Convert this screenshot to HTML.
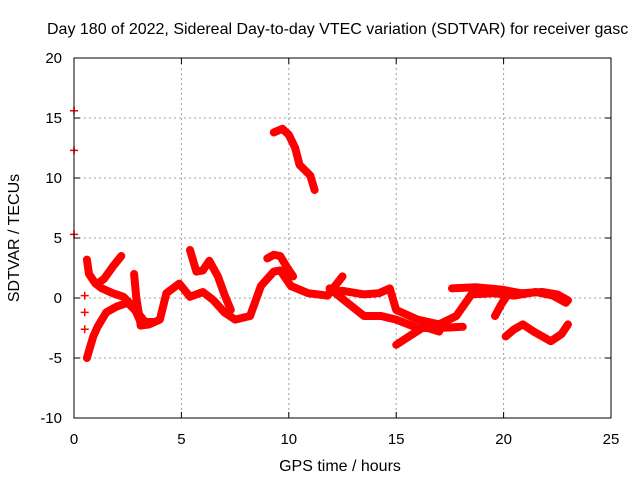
<!DOCTYPE html>
<html><head><meta charset="utf-8"><style>
body{margin:0;background:#fff;}
svg{display:block;font-family:"Liberation Sans",sans-serif;}
</style></head><body>
<svg id="chart" width="640" height="480">
<text x="47" y="34" font-size="16">Day 180 of 2022, Sidereal Day-to-day VTEC variation (SDTVAR) for receiver gasc</text>
<g id="grid"></g>
<g id="series"></g>
<rect x="74" y="58" width="537" height="360" fill="none" stroke="#000" stroke-width="1"/>
<g id="ticks"></g>
<text x="340" y="471" font-size="16" text-anchor="middle">GPS time / hours</text>
<text x="0" y="0" font-size="16" text-anchor="middle" transform="translate(19,238) rotate(-90)">SDTVAR / TECUs</text>
</svg>
<script>
const xTicks=[0,5,10,15,20,25];
const yTicks=[-10,-5,0,5,10,15,20];
const trackA_h=[0.6,0.7,1.0,1.3,1.8,2.3,2.8,3.1,3.7];
const trackA_v=[3.2,2.0,1.2,0.8,0.4,0.1,-0.8,-2.0,-2.0];
const trackB_h=[0.6,0.7,0.9,1.1,1.5,2.0,2.5,3.0,3.4];
const trackB_v=[-5.0,-4.4,-3.2,-2.4,-1.2,-0.7,-0.4,-1.3,-2.2];
const trackC_h=[1.1,1.4,1.8,2.2];
const trackC_v=[1.2,1.6,2.6,3.5];
const trackK_h=[2.8,2.9,3.1];
const trackK_v=[2.0,0.0,-2.2];
const trackM_h=[3.1,3.5,4.0,4.3,4.9,5.4,6.0,6.5,7.0,7.5,8.2,8.7,9.3,9.6,10.1,10.9,11.8,12.5];
const trackM_v=[-2.3,-2.2,-1.8,0.4,1.2,0.1,0.5,-0.2,-1.2,-1.8,-1.5,1.0,2.2,2.3,1.0,0.4,0.2,1.8];
const trackD_h=[5.4,5.7,6.0,6.3,6.7,7.0,7.3];
const trackD_v=[4.0,2.2,2.3,3.1,1.8,0.3,-1.0];
const trackE_h=[9.0,9.3,9.6,9.9,10.2];
const trackE_v=[3.3,3.6,3.5,2.6,1.8];
const trackT_h=[9.3,9.7,10.0,10.3,10.5,11.0,11.2];
const trackT_v=[13.8,14.1,13.6,12.5,11.1,10.2,9.0];
const trackF_h=[11.9,12.5,13.5,14.2,14.7,15.0,16.0,17.0,17.8,18.5,19.5,20.5,21.5,22.3,22.9];
const trackF_v=[0.5,0.6,0.3,0.4,0.8,-1.0,-1.8,-2.2,-1.5,0.3,0.4,0.2,0.5,0.2,-0.4];
const trackG_h=[11.9,12.8,13.5,14.3,15.0,16.0,17.0,18.1];
const trackG_v=[0.8,-0.5,-1.5,-1.5,-1.8,-2.5,-2.5,-2.4];
const trackH_h=[15.0,15.6,16.3,17.0];
const trackH_v=[-3.9,-3.2,-2.4,-2.8];
const trackI_h=[17.6,18.7,19.9,20.8,21.8,22.5,23.0];
const trackI_v=[0.8,0.9,0.7,0.4,0.5,0.3,-0.2];
const trackL_h=[19.6,19.9,20.2];
const trackL_v=[-1.5,-0.5,0.3];
const trackJ_h=[20.1,20.5,20.9,21.4,22.2,22.7,23.0];
const trackJ_v=[-3.2,-2.6,-2.2,-2.8,-3.6,-3.0,-2.2];
const dots_h=[0.0,0.0,0.0,0.5,0.5,0.5];
const dots_v=[15.6,12.3,5.3,0.2,-1.2,-2.6];
const tracks=[[trackA_h,trackA_v],[trackB_h,trackB_v],[trackC_h,trackC_v],[trackK_h,trackK_v],[trackM_h,trackM_v],[trackD_h,trackD_v],[trackE_h,trackE_v],[trackT_h,trackT_v],[trackF_h,trackF_v],[trackG_h,trackG_v],[trackH_h,trackH_v],[trackI_h,trackI_v],[trackL_h,trackL_v],[trackJ_h,trackJ_v]];
const NS="http://www.w3.org/2000/svg";
const X0=74,X1=611,Y0=418,Y1=58;
function sx(h){return X0+(h-0)/25*(X1-X0);}
function sy(v){return Y0-(v+10)/30*(Y0-Y1);}
const grid=document.getElementById('grid'),ticks=document.getElementById('ticks'),ser=document.getElementById('series');
function mk(tag,attrs,parent){const e=document.createElementNS(NS,tag);for(const k in attrs)e.setAttribute(k,attrs[k]);parent.appendChild(e);return e;}
xTicks.forEach(t=>{const x=sx(t);
 if(t>0&&t<25){const g=mk('line',{x1:x,x2:x,y1:Y1,y2:Y0,stroke:'#a0a0a0','stroke-dasharray':'2,3'},grid);
 
 }
 mk('line',{x1:x,x2:x,y1:Y0,y2:Y0-6,stroke:'#000'},ticks);
 mk('line',{x1:x,x2:x,y1:Y1,y2:Y1+6,stroke:'#000'},ticks);
 const l=mk('text',{x:x,y:444,'font-size':15,'text-anchor':'middle'},ticks);l.textContent=t;
 
 });
yTicks.forEach(t=>{const y=sy(t);
 if(t>-10&&t<20){const g=mk('line',{x1:X0,x2:X1,y1:y,y2:y,stroke:'#a0a0a0','stroke-dasharray':'2,3'},grid);
 
 }
 mk('line',{x1:X0,x2:X0+6,y1:y,y2:y,stroke:'#000'},ticks);
 mk('line',{x1:X1,x2:X1-6,y1:y,y2:y,stroke:'#000'},ticks);
 const l=mk('text',{x:62,y:y+5,'font-size':15,'text-anchor':'end'},ticks);l.textContent=t;
 
 });
tracks.forEach(tr=>{const pts=tr[0].map((h,i)=>sx(h).toFixed(1)+','+sy(tr[1][i]).toFixed(1)).join(' ');
 const p=mk('polyline',{points:pts,fill:'none',stroke:'#ff0000','stroke-width':8,'stroke-linejoin':'round','stroke-linecap':'round'},ser);
 
 });
dots_h.forEach((h,i)=>{const x=sx(h),y=sy(dots_v[i]);
 const p=mk('path',{d:`M${x-4},${y}H${x+4}M${x},${y-4}V${y+4}`,stroke:'#ff0000','stroke-width':1.5},ser);
 
 });
</script>
</body></html>
